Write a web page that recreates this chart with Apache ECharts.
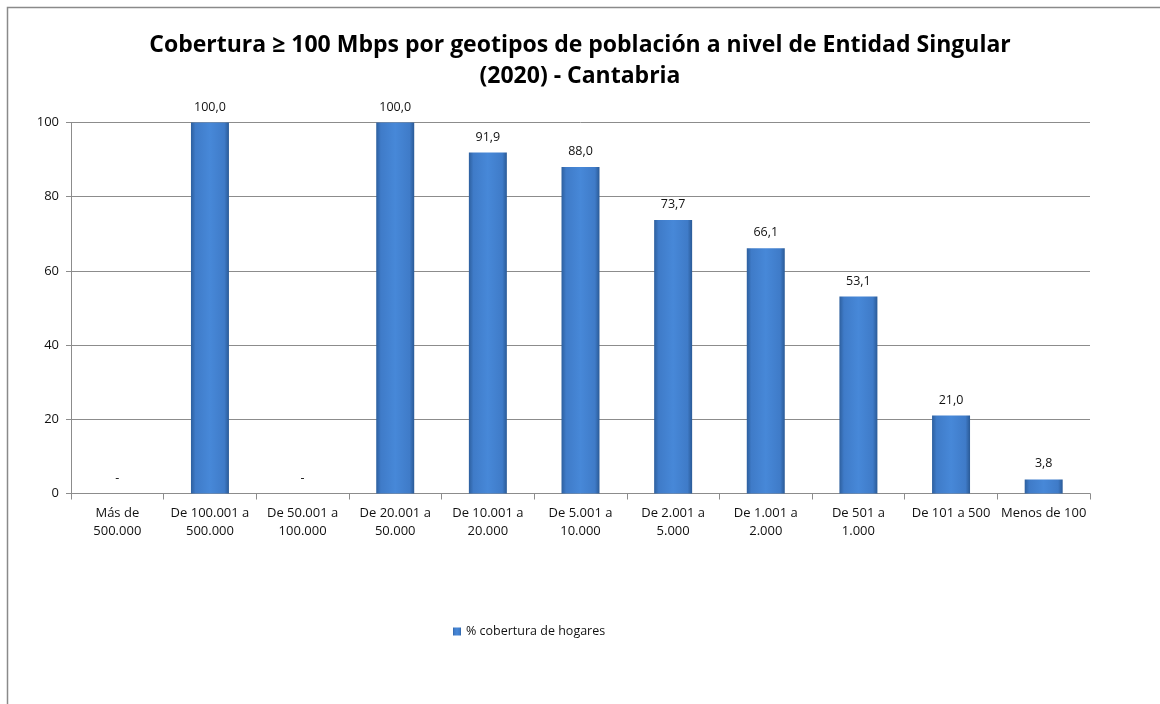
<!DOCTYPE html>
<html>
<head>
<meta charset="utf-8">
<script src="https://cdn.jsdelivr.net/npm/echarts@6/dist/echarts.min.js"></script>
<style>
html,body{margin:0;padding:0;background:#fff;}
#chart{width:1160px;height:704px;}
</style>
</head>
<body>
<div id="chart"></div>
<script>
const categories = ["Más de\n500.000","De 100.001 a\n500.000","De 50.001 a\n100.000","De 20.001 a\n50.000","De 10.001 a\n20.000","De 5.001 a\n10.000","De 2.001 a\n5.000","De 1.001 a\n2.000","De 501 a\n1.000","De 101 a 500","Menos de 100"];
const values = [0, 100.0, 0, 100.0, 91.9, 88.0, 73.7, 66.1, 53.1, 21.0, 3.8];
const seriesName = "% cobertura de hogares";
const yTicks = [0, 20, 40, 60, 80, 100];
const titleLines = ["Cobertura ≥ 100 Mbps por geotipos de población a nivel de Entidad Singular", "(2020) - Cantabria"];

const chart = echarts.init(document.getElementById('chart'));
const font = "'Open Sans', sans-serif";
chart.setOption({
  animation: false,
  backgroundColor: '#fff',
  graphic: [{
    type: 'rect', shape: {x: 7.5, y: 7.5, width: 1300, height: 900},
    style: {fill: 'none', stroke: '#8a8a8a', lineWidth: 1.5}, silent: true, z: 0
  }],
  title: {
    text: titleLines.join('\n'),
    left: 'center', top: 25,
    textStyle: {fontFamily: font, fontWeight: 'bold', fontSize: 23, lineHeight: 31, color: '#000'}
  },
  legend: {
    data: [seriesName], left: 448, top: 620, itemWidth: 8, itemHeight: 8, itemGap: 3,
    icon: 'rect',
    textStyle: {fontFamily: font, fontSize: 12.5, color: '#111'}
  },
  grid: {left: 71, right: 70, top: 122.5, bottom: 210.5, containLabel: false},
  xAxis: {
    type: 'category', data: categories,
    axisLine: {lineStyle: {color: '#8c8c8c', width: 1}},
    axisTick: {show: true, length: 6, lineStyle: {color: '#8c8c8c'}},
    axisLabel: {fontFamily: font, fontSize: 13, color: '#111', margin: 11, lineHeight: 18, interval: 0}
  },
  yAxis: {
    type: 'value', min: yTicks[0], max: yTicks[yTicks.length-1], interval: 20,
    axisLine: {show: true, lineStyle: {color: '#8c8c8c'}},
    axisTick: {show: true, length: 5, lineStyle: {color: '#8c8c8c'}},
    axisLabel: {fontFamily: font, fontSize: 13, color: '#111', margin: 12},
    splitLine: {lineStyle: {color: '#8c8c8c', width: 1}}
  },
  series: [{
    name: seriesName, type: 'bar', data: values, barWidth: '41%',
    itemStyle: {
      color: new echarts.graphic.LinearGradient(0, 0, 1, 0, [
        {offset: 0, color: '#2d5f9e'},
        {offset: 0.12, color: '#3f7bc8'},
        {offset: 0.5, color: '#4788d8'},
        {offset: 0.88, color: '#3f7bc8'},
        {offset: 1, color: '#2a5a96'}
      ])
    },
    label: {
      show: true, position: 'top', distance: 9,
      fontFamily: font, fontSize: 12.5, color: '#111',
      formatter: p => p.value === 0 ? '-' : p.value.toFixed(1).replace('.', ',')
    }
  }]
});
</script>
</body>
</html>
